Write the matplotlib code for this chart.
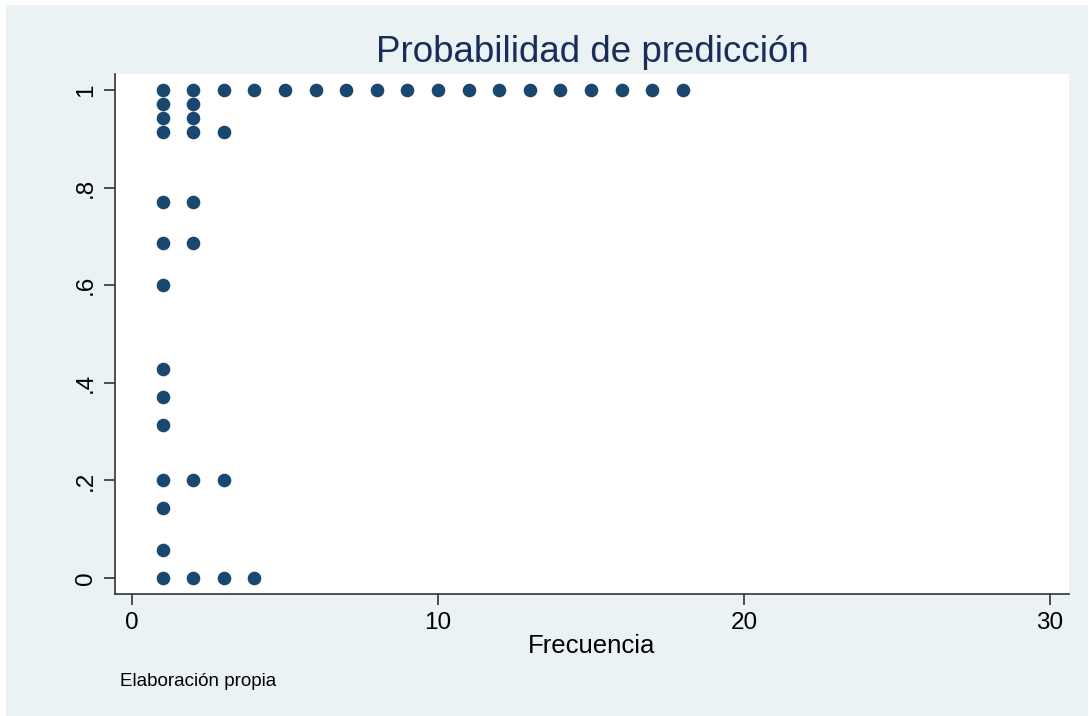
import matplotlib.pyplot as plt
from matplotlib.patches import Rectangle

plt.rcParams['font.family'] = ['Liberation Sans', 'DejaVu Sans']

# frecuencia (x) y probabilidad de prediccion (y)
frecuencia = [1, 2, 3, 4, 5, 6, 7, 8, 9, 10, 11, 12, 13, 14, 15, 16, 17, 18,
              1, 2,
              1, 2,
              1, 2, 3,
              1, 2,
              1, 2,
              1,
              1, 1, 1,
              1, 2, 3,
              1, 1,
              1, 2, 3, 4]
probabilidad = [1.0] * 18 + \
    [0.971] * 2 + \
    [0.943] * 2 + \
    [0.914] * 3 + \
    [0.771] * 2 + \
    [0.686] * 2 + \
    [0.600] + \
    [0.429, 0.371, 0.314] + \
    [0.200] * 3 + \
    [0.143, 0.057] + \
    [0.0] * 4

xticks = [0, 10, 20, 30]
yticks = [0, 0.2, 0.4, 0.6, 0.8, 1]
ylabels = ['0', '.2', '.4', '.6', '.8', '1']

fig = plt.figure(figsize=(10.89, 7.16), dpi=100, facecolor='white')
fig.patches.append(Rectangle((6 / 1089, 0), 1 - 7 / 1089, 1 - 5 / 716,
                             transform=fig.transFigure, facecolor='#eaf2f3',
                             edgecolor='none', zorder=-10))

ax = fig.add_axes([0.1056, 0.1704, 0.876, 0.7262])
ax.set_facecolor('white')
ax.plot(frecuencia, probabilidad, 'o', color='#1a476f', markersize=9.8,
        markeredgewidth=0)

ax.set_xlim(-0.556, 30.62)
ax.set_ylim(-0.0328, 1.0328)
ax.set_xticks(xticks)
ax.set_yticks(yticks)
ax.set_yticklabels(ylabels, rotation=90, va='center')
ax.tick_params(labelsize=17.5, length=8, width=1.2, color='#333333', pad=5)
for s in ['top', 'right']:
    ax.spines[s].set_visible(False)
for s in ['left', 'bottom']:
    ax.spines[s].set_color('#333333')
    ax.spines[s].set_linewidth(1.2)

ax.set_xlabel('Frecuencia', fontsize=18.5, labelpad=0)
fig.text(0.5436, 1 - 52 / 716, 'Probabilidad de predicción', fontsize=26.5,
         color='#1a2d5a', ha='center', va='center')
fig.text(120 / 1089, 1 - 681 / 716, 'Elaboración propia', fontsize=13.5,
         ha='left', va='center')

fig.savefig('out.png', dpi=100, facecolor=fig.get_facecolor())
